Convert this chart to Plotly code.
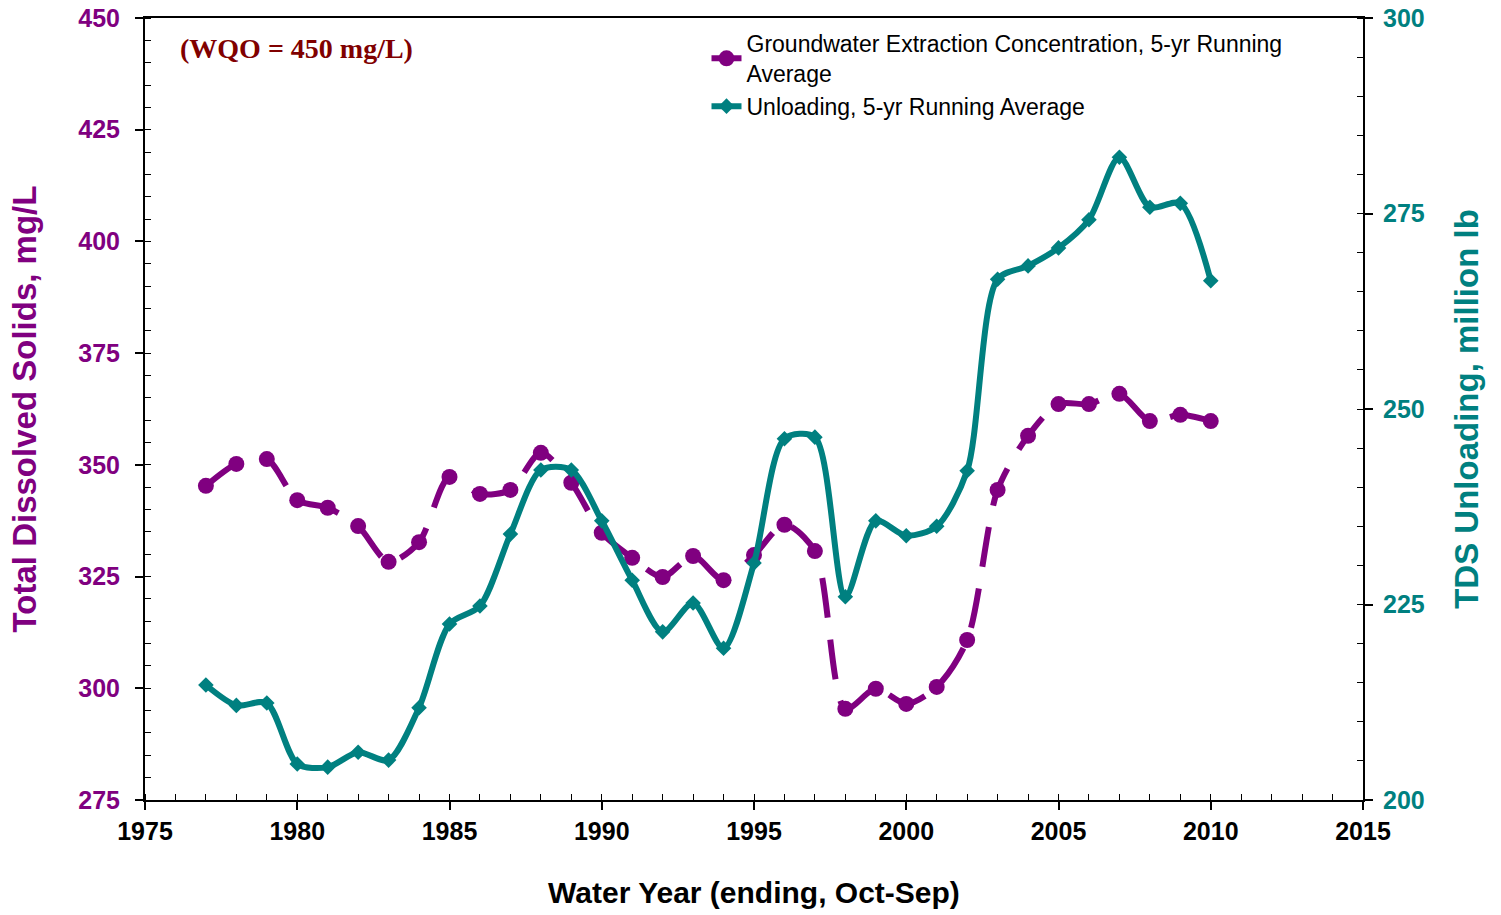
import plotly.graph_objects as go

# Water years
years = list(range(1977, 2011))

# Groundwater extraction concentration, 5-yr running average (mg/L)
tds_conc = [345.3, 350.2, 351.3, 342.1, 340.4, 336.3, 328.3, 332.7, 347.3, 343.5,
            344.4, 352.7, 346.0, 334.8, 329.2, 324.9, 329.6, 324.2, 329.8, 336.6,
            330.7, 295.4, 299.9, 296.5, 300.3, 310.8, 344.4, 356.5, 363.6, 363.6,
            365.9, 359.8, 361.2, 359.8]

# TDS unloading, 5-yr running average (million lb)
unloading = [214.7, 212.1, 212.4, 204.6, 204.2, 206.1, 205.1, 211.8, 222.5, 224.8,
             234.0, 242.2, 242.2, 235.7, 228.1, 221.5, 225.2, 219.4, 230.3, 246.2,
             246.4, 226.0, 235.7, 233.8, 235.0, 242.1, 266.6, 268.3, 270.6, 274.2,
             282.2, 275.8, 276.3, 266.4]

PURPLE = "#800080"
TEAL = "#008080"
FONT = "Liberation Sans"

fig = go.Figure()

fig.add_trace(go.Scatter(
    x=years, y=tds_conc,
    name="Groundwater Extraction Concentration, 5-yr Running<br>Average",
    mode="lines+markers",
    line=dict(color=PURPLE, width=6, dash="40px,22px", shape="spline", smoothing=0.8),
    marker=dict(symbol="circle", size=16, color=PURPLE),
    yaxis="y",
))

fig.add_trace(go.Scatter(
    x=years, y=unloading,
    name="Unloading, 5-yr Running Average",
    mode="lines+markers",
    line=dict(color=TEAL, width=6, shape="spline", smoothing=0.8),
    marker=dict(symbol="diamond", size=12, color=TEAL),
    yaxis="y2",
))

fig.update_layout(
    width=1501, height=915,
    paper_bgcolor="white", plot_bgcolor="white",
    margin=dict(l=145, r=138, t=18, b=115, autoexpand=False),
    font=dict(family=FONT),
    xaxis=dict(
        range=[1975, 2015], dtick=5, tick0=1975, automargin=False,
        showgrid=False, zeroline=False, ticklabeloverflow="allow",
        showline=True, linecolor="black", linewidth=2, mirror=True,
        ticks="outside", ticklen=8, tickwidth=1.5, tickcolor="black",
        minor=dict(dtick=1, ticks="inside", ticklen=6, tickcolor="black", tickwidth=1),
        tickfont=dict(family=FONT, size=25, color="black", weight="bold"),
        title=dict(text="<b>Water Year (ending, Oct-Sep)</b>",
                   font=dict(family=FONT, size=30, color="black"), standoff=38),
    ),
    yaxis=dict(
        range=[275, 450], dtick=25, automargin=False,
        showgrid=False, zeroline=False, ticklabeloverflow="allow",
        showline=True, linecolor="black", linewidth=2,
        ticks="outside", ticklen=8, tickwidth=1.5, tickcolor="black",
        ticklabelstandoff=10,
        minor=dict(dtick=5, ticks="inside", ticklen=6, tickcolor="black", tickwidth=1),
        tickfont=dict(family=FONT, size=25, color=PURPLE, weight="bold"),
        title=dict(text="<b>Total Dissolved Solids, mg/L</b>",
                   font=dict(family=FONT, size=33, color=PURPLE), standoff=32),
    ),
    yaxis2=dict(
        range=[200, 300], dtick=25, overlaying="y", side="right", automargin=False,
        showgrid=False, zeroline=False, ticklabeloverflow="allow",
        showline=True, linecolor="black", linewidth=2,
        ticks="outside", ticklen=8, tickwidth=1.5, tickcolor="black",
        ticklabelstandoff=5,
        minor=dict(dtick=5, ticks="inside", ticklen=6, tickcolor="black", tickwidth=1),
        tickfont=dict(family=FONT, size=25, color=TEAL, weight="bold"),
        title=dict(text="<b>TDS Unloading, million lb</b>",
                   font=dict(family=FONT, size=33, color=TEAL), standoff=31),
    ),
    legend=dict(
        x=0.461, y=0.995, xanchor="left", yanchor="top",
        bgcolor="rgba(255,255,255,0)",
        font=dict(family=FONT, size=23, color="black"),
        tracegroupgap=2,
    ),
    showlegend=True,
)

fig.add_annotation(
    text="<b>(WQO = 450 mg/L)</b>",
    xref="paper", yref="paper", x=0.027, y=0.983,
    xanchor="left", yanchor="top", showarrow=False,
    font=dict(family="Liberation Serif", size=28, color="#800000"),
)

# drop the default page margin so the top tick labels are not clipped
fig.write_html("out.html", config={"displayModeBar": False},
               post_script="document.body.style.margin='0px';")
